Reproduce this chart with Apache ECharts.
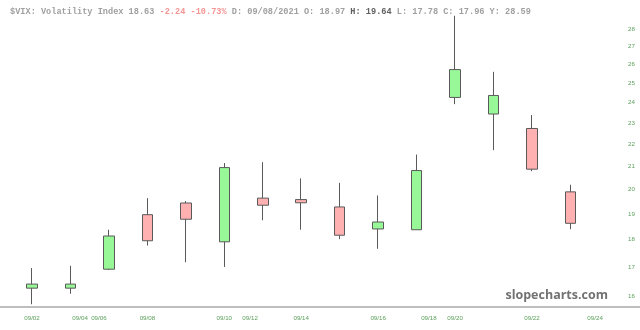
<!DOCTYPE html>
<html>
<head>
<meta charset="utf-8">
<script src="https://cdn.jsdelivr.net/npm/echarts@6/dist/echarts.min.js"></script>
<style>html,body{margin:0;padding:0;background:#fff;}#c{width:640px;height:330px;}</style>
</head>
<body>
<div id="c"></div>
<script>
// Trading days shown as candles
var dates = ['09/02','09/03','09/07','09/08','09/09','09/10','09/13','09/14','09/15','09/16','09/17','09/20','09/21','09/22','09/23'];
var opens  = [16.26,16.26,16.92,18.97,19.44,17.92,19.64,19.58,19.28,18.41,18.38,24.26,23.43,22.73,19.90];
var closes = [16.40,16.40,18.14,17.96,18.79,20.94,19.35,19.45,18.17,18.68,20.81,25.72,24.36,20.87,18.63];
var lows   = [15.72,16.07,16.89,17.78,17.17,17.00,18.75,18.38,18.02,17.66,18.38,23.92,21.72,20.78,18.40];
var highs  = [16.96,17.04,18.38,19.64,19.52,21.14,21.18,20.47,20.28,19.75,21.52,28.79,25.60,23.38,20.20];
// x tick labels and where they fall, in trading-day units
var xLabels = ['09/02','09/04','09/06','09/08','09/10','09/12','09/14','09/16','09/18','09/20','09/22','09/24'];
var xLabelAt = [0,1.25,1.74,3,5,5.67,7,9,10.32,11,13,14.64];
// y tick labels
var yTicks = [16,17,18,19,20,21,22,23,24,25,26,27,28];

var data = dates.map(function(d,i){ return [i, opens[i], closes[i], lows[i], highs[i]]; });

var chart = echarts.init(document.getElementById('c'), null, {renderer:'canvas'});
chart.setOption({
  animation:false,
  backgroundColor:'#ffffff',
  title:{
    left:5, top:2,
    text:'{g|$VIX: Volatility Index 18.63 }{r|-2.24 -10.73%}{g| D: 09/08/2021 O: 18.97 }{b|H: 19.64}{g| L: 17.78 C: 17.96 Y: 28.59}',
    textStyle:{
      rich:{
        g:{fontFamily:'Liberation Mono',fontSize:8.6,color:'#a0a0a0'},
        r:{fontFamily:'Liberation Mono',fontSize:8.6,color:'#f49494'},
        b:{fontFamily:'Liberation Mono',fontSize:8.6,color:'#606060',fontWeight:'bold'}
      }
    }
  },
  graphic:[{
    type:'text', right:32, top:289,
    style:{text:'slopecharts.com', font:'bold 12.5px "Open Sans"', fill:'#727272'}
  }],
  grid:{left:0,right:0,top:14,bottom:23},
  xAxis:{
    type:'value', min:-0.832, max:15.808,
    axisLine:{show:true,lineStyle:{color:'#a8a8a8',width:1.5}},
    axisTick:{show:false},
    splitLine:{show:false},
    axisLabel:{
      customValues:xLabelAt,
      formatter:function(v){ var k = xLabelAt.indexOf(v); return k>=0 ? xLabels[k] : ''; },
      color:'#5a9e5a', fontSize:6.2, fontFamily:'Liberation Sans', margin:8
    }
  },
  yAxis:{
    type:'log', logBase:10, min:15.63, max:28.9, position:'right',
    axisLine:{show:false}, axisTick:{show:false}, splitLine:{show:false},
    axisLabel:{
      inside:true, customValues:yTicks, margin:5,
      formatter:function(v){ return String(Math.round(v)); },
      color:'#5a9e5a', fontSize:6.2, fontFamily:'Liberation Sans'
    }
  },
  series:[{
    type:'candlestick',
    data:data,
    encode:{x:0, y:[1,2,3,4]},
    barWidth:11,
    itemStyle:{
      color:'#98f898', color0:'#ffb0b0',
      borderColor:'#5a5a5a', borderColor0:'#5a5a5a', borderWidth:1
    }
  }]
});
</script>
</body>
</html>
